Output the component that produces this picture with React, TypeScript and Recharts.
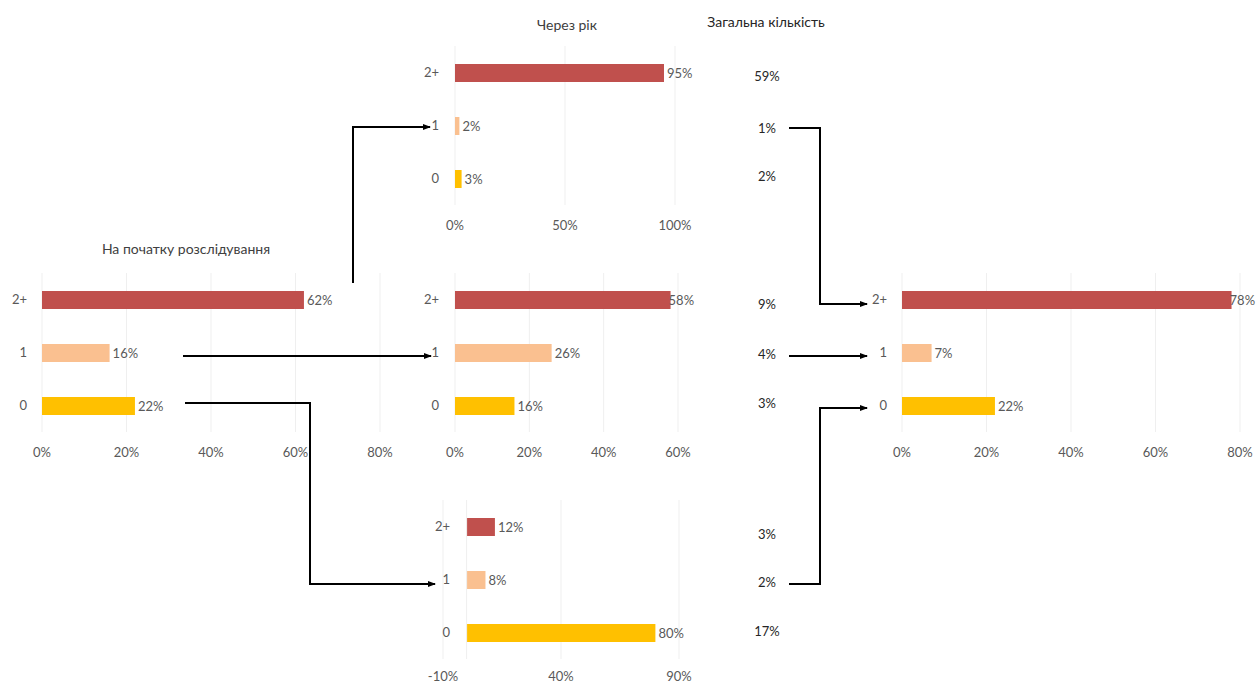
import { BarChart, Bar, XAxis, YAxis, CartesianGrid, Cell, LabelList, ReferenceLine } from "recharts"

const categories = ["2+", "1", "0"]
const startShares = [0.62, 0.16, 0.22]
const yearLaterFrom2 = [0.95, 0.02, 0.03]
const yearLaterFrom1 = [0.58, 0.26, 0.16]
const yearLaterFrom0 = [0.12, 0.08, 0.8]
const totalShares = [0.78, 0.07, 0.22]
// shares of each path (start group x group a year later)
const pathShares = [0.59, 0.01, 0.02, 0.09, 0.04, 0.03, 0.03, 0.02, 0.17]

const ticks80 = [0, 0.2, 0.4, 0.6, 0.8]
const ticks100 = [0, 0.5, 1]
const ticks60 = [0, 0.2, 0.4, 0.6]
const ticksLow = [-0.1, 0.4, 0.9]

const colors = ["#C0504D", "#FAC090", "#FFC000"]
const gray = "#595959"
const font = "Lato, 'Open Sans', sans-serif"
const rowBand = 53

const pct = (v: number) => `${Math.round(v * 100)}%`
const toRows = (vals: number[]) => categories.map((cat, i) => ({ cat, value: vals[i] }))

function MiniBars({
  values,
  left,
  top,
  width,
  domain,
  ticks,
  catGap = 9,
  tickGap = 10,
  tightTop = false,
  zeroLine = false,
}: {
  values: number[]
  left: number
  top: number
  width: number
  domain: [number, number]
  ticks: number[]
  catGap?: number
  tickGap?: number
  tightTop?: boolean
  zeroLine?: boolean
}) {
  const yW = 40
  const right = 45
  const axisH = 30
  const plotH = rowBand * categories.length

  // value label to the right of the bar; the longest bar's label overlaps its end a bit
  const renderLabel = (p: any) => {
    const gap = tightTop && p.index === 0 ? -2 : 3
    return (
      <text x={p.x + p.width + gap} y={p.y + p.height / 2} dominantBaseline="central" fill={gray} fontSize={13}>
        {pct(Number(p.value))}
      </text>
    )
  }

  return (
    <div style={{ position: "absolute", left: left - yW, top, width: width + yW + right, height: plotH + axisH }}>
      <BarChart
        layout="vertical"
        width={width + yW + right}
        height={plotH + axisH}
        data={toRows(values)}
        margin={{ top: 0, right, bottom: 0, left: 0 }}
        barSize={18}
      >
        <CartesianGrid horizontal={false} stroke="#efefef" />
        {zeroLine && <ReferenceLine x={0} stroke="#efefef" />}
        <XAxis
          type="number"
          domain={domain}
          ticks={ticks}
          interval={0}
          tickFormatter={pct}
          axisLine={false}
          tickLine={false}
          height={axisH}
          tickMargin={tickGap}
          tick={{ fill: gray, fontSize: 13 }}
        />
        <YAxis
          type="category"
          dataKey="cat"
          width={yW}
          axisLine={false}
          tickLine={false}
          tickMargin={catGap}
          tick={{ fill: gray, fontSize: 13 }}
        />
        <Bar dataKey="value" isAnimationActive={false}>
          {values.map((_, i) => (
            <Cell key={i} fill={colors[i]} />
          ))}
          <LabelList dataKey="value" content={renderLabel} />
        </Bar>
      </BarChart>
    </div>
  )
}

const shareRowsY = [77, 129, 177, 305, 355, 404, 535, 583, 632]

function Arrow({ points }: { points: number[][] }) {
  return (
    <polyline
      points={points.map((p) => p.join(",")).join(" ")}
      fill="none"
      stroke="#000"
      strokeWidth={2}
      markerEnd="url(#head)"
    />
  )
}

export default function App() {
  return (
    <div style={{ position: "absolute", left: 0, top: 0, width: 1257, height: 684, background: "#fff", fontFamily: font }}>
      <div style={{ position: "absolute", left: 86, top: 240, width: 200, textAlign: "center", fontSize: 14, color: "#404040" }}>
        На початку розслідування
      </div>
      <div style={{ position: "absolute", left: 487, top: 16, width: 160, textAlign: "center", fontSize: 14, color: "#404040" }}>
        Через рік
      </div>
      <div style={{ position: "absolute", left: 686, top: 13, width: 160, textAlign: "center", fontSize: 14, color: "#262626" }}>
        Загальна кількість
      </div>

      <MiniBars values={startShares} left={42} top={272.5} width={338} domain={[0, 0.8]} ticks={ticks80} />
      <MiniBars values={yearLaterFrom2} left={455} top={45.5} width={220} domain={[0, 1]} ticks={ticks100} catGap={10} />
      <MiniBars values={yearLaterFrom1} left={455} top={272.5} width={223} domain={[0, 0.6]} ticks={ticks60} catGap={10} tightTop />
      <MiniBars values={yearLaterFrom0} left={443} top={499.5} width={236} domain={[-0.1, 0.9]} ticks={ticksLow} catGap={-13} tickGap={7} zeroLine />
      <MiniBars values={totalShares} left={902} top={272.5} width={338} domain={[0, 0.8]} ticks={ticks80} tightTop />

      {pathShares.map((v, i) => (
        <div
          key={i}
          style={{ position: "absolute", left: 737, top: shareRowsY[i] - 9, width: 60, textAlign: "center", fontSize: 13, color: "#262626" }}
        >
          {pct(v)}
        </div>
      ))}

      <svg width={1257} height={684} style={{ position: "absolute", left: 0, top: 0, pointerEvents: "none" }}>
        <defs>
          <marker id="head" markerWidth="8" markerHeight="6" refX="7" refY="3" orient="auto" markerUnits="userSpaceOnUse">
            <path d="M0,0 L8,3 L0,6 Z" fill="#000" />
          </marker>
        </defs>
        <Arrow points={[[353, 283], [353, 127], [430, 127]]} />
        <Arrow points={[[183, 356], [431, 356]]} />
        <Arrow points={[[185, 403], [310, 403], [310, 584], [435, 584]]} />
        <Arrow points={[[789, 128], [820, 128], [820, 304], [867, 304]]} />
        <Arrow points={[[789, 356], [867, 356]]} />
        <Arrow points={[[789, 584], [820, 584], [820, 408], [867, 408]]} />
      </svg>
    </div>
  )
}
